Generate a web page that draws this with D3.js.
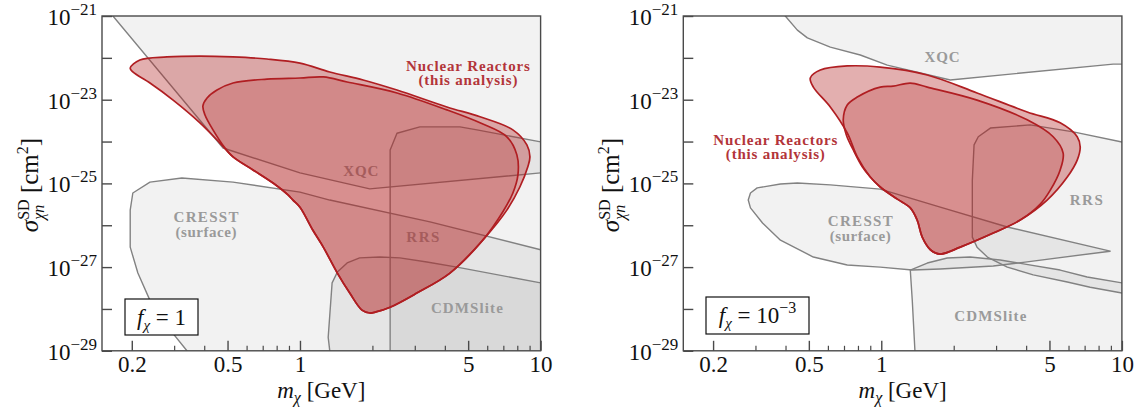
<!DOCTYPE html>
<html><head><meta charset="utf-8">
<script src="https://cdn.jsdelivr.net/npm/d3@7"></script>
<style>
body{margin:0;background:#fff}
svg{display:block}
text{font-family:"Liberation Serif","DejaVu Serif",serif}
</style>
</head><body>
<svg id="c" width="1141" height="408"></svg>
<script>
// ---------- axis ticks ----------
const massMajor = [0.2, 0.5, 1, 5, 10];
const massMajorLabels = ["0.2", "0.5", "1", "5", "10"];
const massMinor = [0.3, 0.4, 0.6, 0.7, 0.8, 0.9, 2, 3, 4, 6, 7, 8, 9];
const sigmaTickExps = [-29, -28, -27, -26, -25, -24, -23, -22, -21];
const sigmaLabelExps = [-29, -27, -25, -23, -21];
const massDomain = [0.1504, 10];
const sigmaDomain = [1e-29, 1e-21];

// ---------- left panel, f_chi = 1  ([mass GeV, sigma cm^2]) ----------
const xqcA = [[0.141,3.2e-21],[0.167,1e-21],[0.479,7.0e-25],[1.0,1.78e-25],[1.95,7.4e-26],[10,1.78e-25],[14,1.78e-25],[14,1e-19],[0.141,1e-19]];
const cresstA = [[0.36,4e-30],[0.339,1e-29],[0.288,3.2e-29],[0.238,1.6e-28],[0.212,7.2e-28],[0.197,3.0e-27],[0.197,2.3e-26],[0.202,5.9e-26],[0.238,1.07e-25],[0.323,1.35e-25],[0.527,1.07e-25],[1.0,6.2e-26],[1.33,4.0e-26],[3.47,1.2e-26],[10,2.6e-27],[14,2.0e-27],[14,4e-30]];
const rrsA = [[2.37,1e-30],[2.37,6.3e-25],[2.53,1.58e-24],[3.15,2.24e-24],[4.62,2.24e-24],[5.44,1.9e-24],[10,9.8e-25],[14,8e-25],[14,1e-30]];
const cdmsA = [[1.33,1e-30],[1.33,1e-29],[1.31,2.1e-29],[1.36,4.2e-28],[1.43,7.6e-28],[1.57,1.26e-27],[1.77,1.66e-27],[2.15,1.74e-27],[2.60,1.66e-27],[3.37,1.32e-27],[4.49,1.0e-27],[10,4.2e-28],[14,3.5e-28],[14,1e-30]];
const reactorOuterA = [[0.197,5.7e-23],[0.216,8.9e-23],[0.280,1.05e-22],[0.384,1.1e-22],[0.527,1.05e-22],[0.729,9.4e-23],[1.0,7.5e-23],[1.33,4.6e-23],[1.83,2.96e-23],[2.53,1.7e-23],[4.08,6.7e-24],[5.60,3.9e-24],[7.67,1.9e-24],[8.77,8.3e-25],[9.03,4.3e-25],[8.85,2.5e-25],[8.20,8.2e-26],[7.24,2.3e-26],[5.75,4.4e-27],[4.20,7.2e-28],[3.06,2.4e-28],[2.37,1.1e-28],[2.07,8.5e-29],[1.95,8.0e-29],[1.81,9.4e-29],[1.61,2.4e-28],[1.43,7.2e-28],[1.25,3.0e-27],[1.13,7.7e-27],[1.0,2.7e-26],[0.935,4.0e-26],[0.892,5.3e-26],[0.773,1.02e-25],[0.638,2.1e-25],[0.527,4.3e-25],[0.465,9.2e-25],[0.384,2.8e-24],[0.297,9.8e-24],[0.238,2.5e-23],[0.202,4.6e-23]];
const reactorInnerA = [[0.488,7.0e-25],[0.435,1.9e-24],[0.403,4.3e-24],[0.395,7.1e-24],[0.411,1.1e-23],[0.452,1.7e-23],[0.527,2.5e-23],[0.729,3.1e-23],[1.0,3.3e-23],[1.25,3.5e-23],[1.57,2.65e-23],[2.53,1.45e-23],[4.08,5.7e-24],[5.60,2.8e-24],[7.24,1.3e-24],[7.97,4.8e-25],[8.05,1.6e-25],[7.67,5.9e-26],[6.97,2.1e-26],[5.75,4.4e-27],[4.20,7.2e-28],[3.06,2.4e-28],[2.37,1.1e-28],[2.07,8.5e-29],[1.95,8.0e-29],[1.81,9.4e-29],[1.61,2.4e-28],[1.43,7.2e-28],[1.25,3.0e-27],[1.13,7.7e-27],[1.0,2.7e-26],[0.935,4.0e-26],[0.892,5.3e-26],[0.773,1.02e-25],[0.638,2.1e-25],[0.527,4.3e-25]];

// ---------- right panel, f_chi = 1e-3 ----------
const xqcB = [[0.373,1.5e-21],[0.399,1e-21],[0.448,4.6e-22],[0.493,3.0e-22],[0.614,1.8e-22],[0.818,1.17e-22],[1.059,6.7e-23],[1.935,2.96e-23],[9.20,7.1e-23],[10,7.1e-23],[14,7.1e-23],[14,1e-19],[0.373,1e-19]];
const cresstB = [[0.280,4.0e-26],[0.286,5.9e-26],[0.305,7.8e-26],[0.381,9.7e-26],[0.448,1.02e-25],[0.614,9.2e-26],[0.99,7.3e-26],[1.758,2.7e-26],[3.34,9.1e-27],[8.94,2.4e-27],[3.89,1.3e-27],[2.92,1.06e-27],[1.758,9.0e-28],[1.345,8.5e-28],[0.99,1.0e-27],[0.722,1.12e-27],[0.522,1.74e-27],[0.381,4.4e-27],[0.321,1.13e-26],[0.286,2.6e-26]];
const rrsB = [[14,9e-25],[10,9.75e-25],[6.28,1.7e-24],[4.16,2.5e-24],[2.84,2.1e-24],[2.53,1.3e-24],[2.43,8.3e-25],[2.39,1.2e-25],[2.39,5.2e-27],[2.50,3.0e-27],[2.76,1.74e-27],[3.34,1.0e-27],[4.28,6.5e-28],[5.93,4.4e-28],[7.38,3.3e-28],[10,2.4e-28],[14,2.2e-28]];
const cdmsB = [[1.40,1e-30],[1.38,1e-29],[1.345,1.64e-28],[1.32,8.5e-28],[1.553,1.25e-27],[1.88,1.65e-27],[2.34,1.74e-27],[3.12,1.48e-27],[5.54,8.5e-28],[7.17,5.8e-28],[10,4.2e-28],[14,4e-28],[14,1e-30]];
const reactorOuterB = [[0.507,3.3e-23],[0.558,5.1e-23],[0.722,6.4e-23],[0.99,6.0e-23],[1.553,3.9e-23],[2.50,1.45e-23],[4.04,5.1e-24],[5.54,2.8e-24],[6.52,1.3e-24],[6.71,7.4e-25],[6.52,3.6e-25],[5.93,1.42e-25],[4.89,4.0e-26],[3.78,1.33e-26],[2.92,6.5e-27],[2.13,3.0e-27],[1.758,2.05e-27],[1.60,2.6e-27],[1.48,5.2e-27],[1.41,1.33e-26],[1.32,2.6e-26],[1.166,4.2e-26],[0.99,8.2e-26],[0.90,1.42e-25],[0.795,4.3e-25],[0.722,1.6e-24],[0.614,6.7e-24],[0.522,2.0e-23]];
const reactorInnerB = [[0.99,2.0e-23],[1.12,2.1e-23],[1.32,2.5e-23],[1.553,2.0e-23],[2.50,9.8e-24],[4.04,3.3e-24],[5.18,1.3e-24],[5.70,5.3e-25],[5.54,2.1e-25],[5.04,6.9e-26],[4.58,3.2e-26],[3.78,1.33e-26],[2.92,6.5e-27],[2.13,3.0e-27],[1.758,2.05e-27],[1.60,2.6e-27],[1.48,5.2e-27],[1.41,1.33e-26],[1.32,2.6e-26],[1.166,4.2e-26],[0.99,8.2e-26],[0.90,1.42e-25],[0.834,2.5e-25],[0.765,6.3e-25],[0.716,1.44e-24],[0.695,3.3e-24],[0.722,7.5e-24],[0.795,1.16e-23]];

// ---------- labels ----------
const labelTextsGray = ["XQC", "CRESST", "RRS", "CDMSlite"];
const fractionLabels = ["1", "10"];

// layout / annotation placement (not data)
const W = 438.6, H = 334.8, TOP = 16;
const panels = [
  { left: 102, gray: [xqcA, cresstA, rrsA, cdmsA], outer: reactorOuterA, inner: reactorInnerA,
    glabels: [
      {t:"XQC", m:1.79, s:1.5e-25, w:35},
      {t:"CRESST", m:0.407, s:1.2e-26, w:65, sub:"(surface)", sw:61},
      {t:"RRS", m:3.24, s:4.0e-27, w:33},
      {t:"CDMSlite", m:4.94, s:8.0e-29, w:72}],
    rlabel: {m:4.99, s:4.85e-23},
    box: {x:23, y:283, w:73, h:36}, frac: {main:"1", sup:null} },
  { left: 683.3, gray: [xqcB, cresstB, rrsB, cdmsB], outer: reactorOuterB, inner: reactorInnerB,
    glabels: [
      {t:"XQC", m:1.79, s:8.0e-23, w:35},
      {t:"CRESST", m:0.818, s:9.6e-27, w:65, sub:"(surface)", sw:61},
      {t:"RRS", m:7.11, s:3.05e-26, w:33},
      {t:"CDMSlite", m:2.84, s:5.2e-29, w:72}],
    rlabel: {m:0.363, s:8.3e-25},
    box: {x:22.7, y:281, w:103, h:37}, frac: {main:"10", sup:"−3"} }
];

const svg = d3.select("#c");
const defs = svg.append("defs");
const AX = "#4a4a4a";

function measure(txt, size, italic) {
  const t = svg.append("text").attr("font-size", size).attr("font-style", italic ? "italic" : "normal").text(txt);
  const w = t.node().getComputedTextLength(); t.remove(); return w;
}

panels.forEach((p, i) => {
  const x = d3.scaleLog().domain(massDomain).range([0, W]);
  const y = d3.scaleLog().domain(sigmaDomain).range([H, 0]);
  const g = svg.append("g").attr("transform", `translate(${p.left},${TOP})`);
  defs.append("clipPath").attr("id", "clip" + i).append("rect").attr("width", W).attr("height", H);
  const plot = g.append("g").attr("clip-path", `url(#clip${i})`);
  const line = d3.line().x(d => x(d[0])).y(d => y(d[1]));
  const smooth = d3.line().x(d => x(d[0])).y(d => y(d[1])).curve(d3.curveCatmullRomClosed.alpha(0.5));

  p.gray.forEach(poly => plot.append("path").attr("d", line(poly) + "Z")
    .attr("fill", "#000").attr("fill-opacity", 0.052).attr("stroke", "none"));
  p.gray.forEach(poly => plot.append("path").attr("d", line(poly) + "Z")
    .attr("fill", "none").attr("stroke", "#828282").attr("stroke-width", 1.4).attr("stroke-linejoin", "round"));

  p.glabels.forEach(l => {
    plot.append("text").attr("x", x(l.m)).attr("y", y(l.s)).attr("text-anchor", "middle")
      .attr("font-size", 15).attr("font-weight", "bold").attr("fill", "#9a9a9a")
      .attr("textLength", l.w).attr("lengthAdjust", "spacing").text(l.t);
    if (l.sub) plot.append("text").attr("x", x(l.m)).attr("y", y(l.s) + 15).attr("text-anchor", "middle")
      .attr("font-size", 15).attr("font-weight", "bold").attr("fill", "#9a9a9a")
      .attr("textLength", l.sw).attr("lengthAdjust", "spacing").text(l.sub);
  });

  plot.append("path").attr("d", smooth(p.outer)).attr("fill", "#b22222").attr("fill-opacity", 0.36).attr("stroke", "none");
  plot.append("path").attr("d", smooth(p.inner)).attr("fill", "#b22222").attr("fill-opacity", 0.22).attr("stroke", "none");
  [p.outer, p.inner].forEach(poly => plot.append("path").attr("d", smooth(poly))
    .attr("fill", "none").attr("stroke", "#b01e22").attr("stroke-width", 1.7).attr("stroke-linejoin", "round"));

  const rl = p.rlabel;
  plot.append("text").attr("x", x(rl.m)).attr("y", y(rl.s)).attr("text-anchor", "middle")
    .attr("font-size", 15).attr("font-weight", "bold").attr("fill", "#b3353a")
    .attr("textLength", 124).attr("lengthAdjust", "spacing").text("Nuclear Reactors");
  plot.append("text").attr("x", x(rl.m)).attr("y", y(rl.s) + 14).attr("text-anchor", "middle")
    .attr("font-size", 15).attr("font-weight", "bold").attr("fill", "#b3353a")
    .attr("textLength", 99).attr("lengthAdjust", "spacing").text("(this analysis)");

  const b = p.box;
  g.append("rect").attr("x", b.x).attr("y", b.y).attr("width", b.w).attr("height", b.h)
    .attr("fill", "#fff").attr("stroke", "#111").attr("stroke-width", 1.2);
  const ft = g.append("text").attr("x", b.x + b.w / 2).attr("y", b.y + 26).attr("text-anchor", "middle").attr("font-size", 23).attr("fill", "#111");
  ft.append("tspan").attr("font-style", "italic").text("f");
  ft.append("tspan").attr("font-style", "italic").attr("font-size", 15).attr("dy", 5).text("χ");
  ft.append("tspan").attr("dy", -5).text(" = " + p.frac.main);
  if (p.frac.sup) ft.append("tspan").attr("font-size", 16).attr("dy", -10).text(p.frac.sup);

  g.append("rect").attr("width", W).attr("height", H).attr("fill", "none").attr("stroke", AX).attr("stroke-width", 1.4);

  const xMajor = d3.axisBottom(x).tickValues(massMajor).tickSizeInner(-10).tickSizeOuter(0).tickPadding(5)
    .tickFormat((d, k) => massMajorLabels[k]);
  const xa = g.append("g").attr("transform", `translate(0,${H})`).call(xMajor);
  xa.select(".domain").remove();
  xa.selectAll("line").attr("stroke", AX).attr("stroke-width", 1.4);
  xa.selectAll("text").attr("font-size", 23).attr("fill", "#111");
  const xMinor = d3.axisBottom(x).tickValues(massMinor).tickSizeInner(-5).tickSizeOuter(0).tickFormat("");
  const xm = g.append("g").attr("transform", `translate(0,${H})`).call(xMinor);
  xm.select(".domain").remove();
  xm.selectAll("line").attr("stroke", AX).attr("stroke-width", 1.2);

  const yAx = d3.axisLeft(y).tickValues(sigmaTickExps.map(e => Math.pow(10, e))).tickSizeInner(-10).tickSizeOuter(0).tickFormat("");
  const ya = g.append("g").call(yAx);
  ya.select(".domain").remove();
  ya.selectAll("line").attr("stroke", AX).attr("stroke-width", 1.4);
  sigmaLabelExps.forEach(e => {
    const t = g.append("text").attr("x", -5).attr("y", y(Math.pow(10, e)) + 9).attr("text-anchor", "end")
      .attr("font-size", 23).attr("fill", "#111");
    t.append("tspan").text("10");
    t.append("tspan").attr("font-size", 17).attr("dy", -10).text("−" + Math.abs(e));
  });

  const xt = g.append("text").attr("x", W / 2).attr("y", 382).attr("text-anchor", "middle").attr("font-size", 23).attr("fill", "#111");
  xt.append("tspan").attr("font-style", "italic").text("m");
  xt.append("tspan").attr("font-style", "italic").attr("font-size", 16).attr("dy", 5).text("χ");
  xt.append("tspan").attr("dy", -5).text(" [GeV]");

  const wsub = measure("χn", 16, true);
  const yt = g.append("text").attr("transform", `translate(-64,169)rotate(-90)`).attr("text-anchor", "middle")
    .attr("font-size", 25).attr("fill", "#111");
  yt.append("tspan").attr("font-style", "italic").text("σ");
  yt.append("tspan").attr("font-style", "italic").attr("font-size", 16).attr("dy", 6).text("χn");
  yt.append("tspan").attr("font-size", 16).attr("dx", -wsub).attr("dy", -15).text("SD");
  yt.append("tspan").attr("dy", 9).text(" [cm");
  yt.append("tspan").attr("font-size", 16).attr("dy", -10).text("2");
  yt.append("tspan").attr("dy", 10).text("]");
});
</script>
</body></html>
